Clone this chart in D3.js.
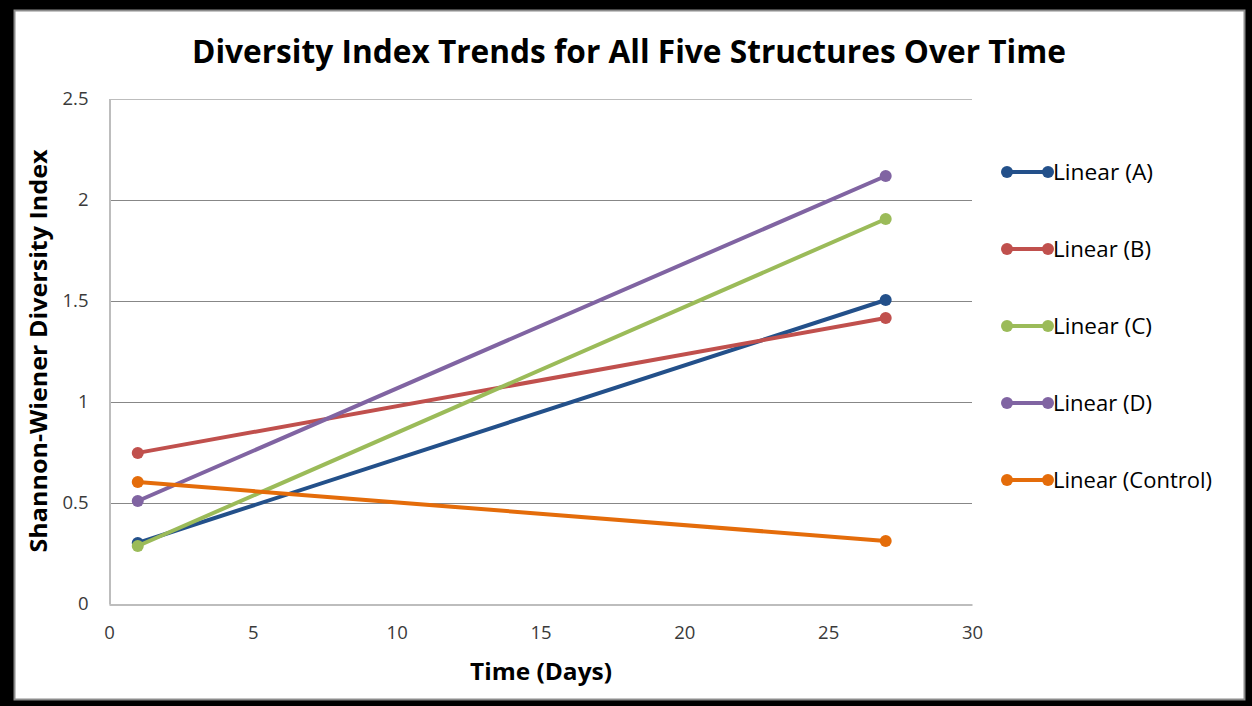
<!DOCTYPE html>
<html>
<head>
<meta charset="utf-8">
<script src="https://cdn.jsdelivr.net/npm/d3@7"></script>
<style>
  html, body { margin: 0; padding: 0; background: #000; }
  svg { display: block; }
  text { font-family: "Open Sans", "Noto Sans", sans-serif; }
</style>
</head>
<body>
<svg id="chart" width="1252" height="706"></svg>
<script>
// Day of each measurement (start and end of the trend lines)
const days = [1, 27];

// Fitted Shannon-Wiener index at each day, per structure
const seriesNames = ["Linear (A)", "Linear (B)", "Linear (C)", "Linear (D)", "Linear (Control)"];
const valuesA = [0.302, 1.505];
const valuesB = [0.748, 1.416];
const valuesC = [0.287, 1.906];
const valuesD = [0.510, 2.119];
const valuesControl = [0.604, 0.312];
const seriesColors = ["#23508A", "#C0504D", "#9BBB59", "#8064A2", "#E46C0A"];

const xTicks = [0, 5, 10, 15, 20, 25, 30];
const yTicks = [0, 0.5, 1, 1.5, 2, 2.5];

const allValues = [valuesA, valuesB, valuesC, valuesD, valuesControl];
const series = seriesNames.map((name, i) => ({
  name,
  color: seriesColors[i],
  points: days.map((d, j) => ({ x: d, y: allValues[i][j] }))
}));

const svg = d3.select("#chart");

// Framed white background
svg.append("rect").attr("x", 0).attr("y", 0).attr("width", 1252).attr("height", 706).attr("fill", "#000");
svg.append("rect").attr("x", 14.5).attr("y", 10.5).attr("width", 1230).attr("height", 689)
  .attr("fill", "#fff").attr("stroke", "#8c8c8c").attr("stroke-width", 2);

const plot = { left: 109, right: 972, top: 99, bottom: 604 };
const x = d3.scaleLinear().domain([0, 30]).range([plot.left, plot.right]);
const y = d3.scaleLinear().domain([0, 2.5]).range([plot.bottom, plot.top]);

// Horizontal gridlines
svg.append("g")
  .selectAll("line")
  .data(yTicks.filter(t => t > 0))
  .join("line")
  .attr("x1", plot.left).attr("x2", plot.right)
  .attr("y1", d => Math.round(y(d)) + 0.5).attr("y2", d => Math.round(y(d)) + 0.5)
  .attr("stroke", d => d === 2.5 ? "#bdbdbd" : "#878787")
  .attr("stroke-width", 1);

// Axes
const yAxis = d3.axisLeft(y).tickValues(yTicks).tickSize(0).tickPadding(21).tickFormat(d3.format("~g"));
const gy = svg.append("g").attr("transform", `translate(${plot.left + 0.5},0)`).call(yAxis);
gy.select(".domain").attr("stroke", "#bdbdbd").attr("stroke-width", 2);
gy.selectAll("text").attr("font-size", 18.5).attr("fill", "#3a3a3a")
  .attr("font-family", '"Open Sans", sans-serif');

const xAxis = d3.axisBottom(x).tickValues(xTicks).tickSize(0).tickPadding(21).tickFormat(d3.format("~g"));
const gx = svg.append("g").attr("transform", `translate(0,${plot.bottom + 0.5})`).call(xAxis);
gx.select(".domain").attr("stroke", "#bdbdbd").attr("stroke-width", 2);
gx.selectAll("text").attr("font-size", 18.5).attr("fill", "#3a3a3a")
  .attr("font-family", '"Open Sans", sans-serif');

// Trend lines with end markers
const line = d3.line().x(d => x(d.x)).y(d => y(d.y));
const gSeries = svg.append("g");
series.forEach(s => {
  const g = gSeries.append("g");
  g.append("path").datum(s.points).attr("d", line)
    .attr("fill", "none").attr("stroke", s.color).attr("stroke-width", 4).attr("stroke-linecap", "round");
  g.selectAll("circle").data(s.points).join("circle")
    .attr("cx", d => x(d.x)).attr("cy", d => y(d.y)).attr("r", 6)
    .attr("fill", s.color);
});

// Title
svg.append("text")
  .attr("x", 629).attr("y", 63)
  .attr("text-anchor", "middle")
  .attr("font-size", 31.5).attr("font-weight", "bold").attr("fill", "#000")
  .attr("textLength", 874).attr("lengthAdjust", "spacingAndGlyphs")
  .text("Diversity Index Trends for All Five Structures Over Time");

// Axis titles
svg.append("text")
  .attr("x", 541).attr("y", 680)
  .attr("text-anchor", "middle")
  .attr("font-size", 24).attr("font-weight", "bold").attr("fill", "#000")
  .attr("textLength", 142).attr("lengthAdjust", "spacingAndGlyphs")
  .text("Time (Days)");

svg.append("text")
  .attr("transform", "translate(47,351) rotate(-90)")
  .attr("text-anchor", "middle")
  .attr("font-size", 24).attr("font-weight", "bold").attr("fill", "#000")
  .attr("textLength", 403).attr("lengthAdjust", "spacingAndGlyphs")
  .text("Shannon-Wiener Diversity Index");

// Legend
const legendWidths = [100, 98, 99, 99, 159];
const legend = svg.append("g");
series.forEach((s, i) => {
  const ly = 172 + i * 77;
  const g = legend.append("g");
  g.append("line").attr("x1", 1007).attr("x2", 1048).attr("y1", ly).attr("y2", ly)
    .attr("stroke", s.color).attr("stroke-width", 4);
  [1007, 1048].forEach(cx => g.append("circle").attr("cx", cx).attr("cy", ly).attr("r", 6).attr("fill", s.color));
  g.append("text").attr("x", 1053).attr("y", ly + 7.5)
    .attr("font-size", 21).attr("fill", "#000")
    .attr("textLength", legendWidths[i]).attr("lengthAdjust", "spacingAndGlyphs")
    .text(s.name);
});
</script>
</body>
</html>
